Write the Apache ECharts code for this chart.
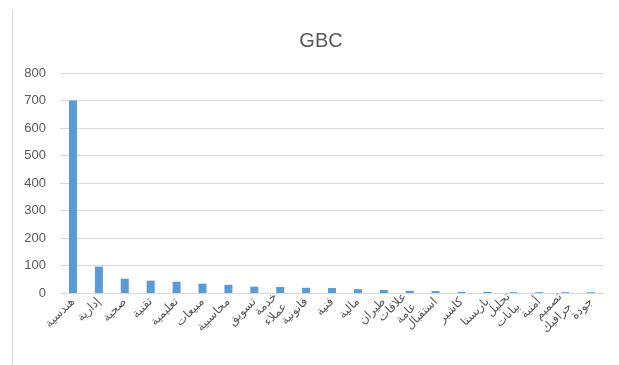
<!DOCTYPE html>
<html>
<head>
<meta charset="utf-8">
<script src="https://cdn.jsdelivr.net/npm/echarts@6/dist/echarts.min.js"></script>
<style>
  html, body { margin: 0; padding: 0; background: #fff; }
  #main { width: 619px; height: 365px; }
</style>
</head>
<body>
<div id="main"></div>
<script>
// categories (x axis), left to right
var categories = ['هندسية', 'إدارية', 'صحية', 'تقنية', 'تعليمية', 'مبيعات', 'محاسبية', 'تسويق', 'خدمة\nعملاء', 'قانونية',
  'فنية', 'مالية', 'طيران', 'علاقات\nعامة', 'استقبال', 'كاشير', 'باريستا', 'تحليل\nبيانات', 'أمنية', 'تصميم\nجرافيك', 'جودة'];
// values
var values = [700, 96, 52, 45, 41, 34, 30, 23, 22, 19, 18, 14, 11, 8, 7, 4, 4, 3, 3, 3, 3];
var yTicks = { min: 0, max: 800, interval: 100 };

var chart = echarts.init(document.getElementById('main'), null, { renderer: 'canvas' });

var option = {
  backgroundColor: '#ffffff',
  animation: false,
  title: {
    text: 'GBC',
    left: 316,
    top: 26,
    textAlign: 'center',
    textStyle: { color: '#595959', fontSize: 20, fontWeight: 'normal', fontFamily: 'Liberation Sans, Arial' }
  },
  grid: { left: 60, right: 15, top: 73, bottom: 72, containLabel: false },
  xAxis: {
    type: 'category',
    data: categories,
    axisLine: { show: true, lineStyle: { color: '#d9d9d9', width: 1 } },
    axisTick: { show: false },
    axisLabel: {
      interval: 0,
      rotate: 45,
      color: '#595959',
      fontSize: 12,
      fontFamily: 'DejaVu Sans',
      lineHeight: 14,
      margin: 7
    }
  },
  yAxis: {
    type: 'value',
    min: yTicks.min,
    max: yTicks.max,
    interval: yTicks.interval,
    axisLine: { show: false },
    axisTick: { show: false },
    axisLabel: { color: '#595959', fontSize: 13, fontFamily: 'Liberation Sans, Arial', margin: 14 },
    splitLine: { lineStyle: { color: '#d9d9d9', width: 1 } }
  },
  series: [{
    type: 'bar',
    data: values,
    barWidth: 8,
    itemStyle: { color: '#5b9bd5' }
  }],
  graphic: [{
    type: 'line',
    shape: { x1: 12.5, y1: 10, x2: 12.5, y2: 365 },
    style: { stroke: '#d9d9d9', lineWidth: 1 },
    silent: true
  }]
};

chart.setOption(option);
</script>
</body>
</html>
